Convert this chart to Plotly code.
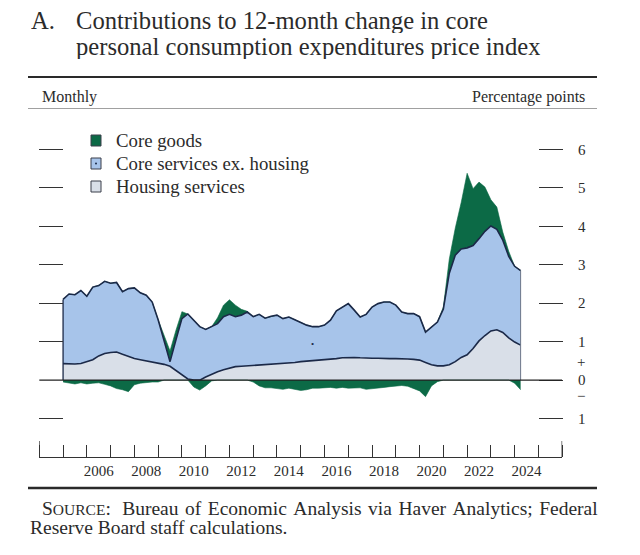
import plotly.graph_objects as go

# ---------------- data (quarterly readings, percentage points) ----------------
quarters = [2005 + 0.25 * i for i in range(78)]  # 2005:Q1 ... 2024:Q2

housing = [
    0.43, 0.42, 0.42, 0.43,
    0.47, 0.53, 0.63, 0.69,
    0.72, 0.73, 0.67, 0.61,
    0.56, 0.53, 0.50, 0.47,
    0.44, 0.41, 0.36, 0.25,
    0.14, 0.03, 0.00, 0.00,
    0.08, 0.16, 0.22, 0.27,
    0.31, 0.35, 0.36, 0.37,
    0.38, 0.39, 0.40, 0.41,
    0.42, 0.43, 0.44, 0.46,
    0.48, 0.49, 0.50, 0.52,
    0.53, 0.54, 0.56, 0.58,
    0.59, 0.59, 0.58, 0.57,
    0.57, 0.57, 0.56, 0.56,
    0.56, 0.56, 0.55, 0.54,
    0.52, 0.46, 0.40, 0.37,
    0.37, 0.40, 0.48, 0.59,
    0.66, 0.82, 1.02, 1.16,
    1.28, 1.31, 1.24, 1.10,
    0.99, 0.91,
]

services_ex_housing = [
    1.67, 1.82, 1.80, 1.90,
    1.71, 1.89, 1.83, 1.88,
    1.80, 1.81, 1.63, 1.77,
    1.84, 1.74, 1.71, 1.56,
    1.13, 0.59, 0.12, 0.80,
    1.46, 1.69, 1.56, 1.39,
    1.24, 1.23, 1.25, 1.38,
    1.40, 1.30, 1.33, 1.40,
    1.27, 1.32, 1.21, 1.25,
    1.27, 1.17, 1.20, 1.11,
    1.02, 0.94, 0.89, 0.87,
    0.90, 1.02, 1.24, 1.31,
    1.40, 1.23, 1.06, 1.14,
    1.33, 1.42, 1.47, 1.47,
    1.39, 1.21, 1.18, 1.19,
    1.13, 0.79, 0.99, 1.14,
    1.48, 2.38, 2.77, 2.82,
    2.78, 2.68, 2.66, 2.71,
    2.73, 2.61, 2.40, 2.12,
    1.97, 1.94,
]

core_goods = [
    -0.05, -0.08, -0.10, -0.07,
    -0.10, -0.08, -0.07, -0.11,
    -0.15, -0.22, -0.25, -0.30,
    -0.12, -0.08, -0.06, -0.05,
    -0.05, 0.15, 0.28, 0.25,
    0.18, 0.00, -0.18, -0.26,
    -0.15, -0.02, 0.15, 0.30,
    0.38, 0.30, 0.15, 0.02,
    -0.05, -0.15, -0.20, -0.20,
    -0.22, -0.24, -0.21, -0.24,
    -0.27, -0.25, -0.21, -0.21,
    -0.20, -0.19, -0.21, -0.19,
    -0.21, -0.21, -0.20, -0.24,
    -0.23, -0.21, -0.19, -0.17,
    -0.16, -0.14, -0.16, -0.22,
    -0.28, -0.43, -0.15, -0.04,
    0.05, 0.37, 0.70, 1.21,
    1.94, 1.48, 1.47, 1.15,
    0.68, 0.58, 0.21, 0.13,
    -0.08, -0.25,
]

year_labels = ["2006", "2008", "2010", "2012", "2014", "2016", "2018", "2020", "2022", "2024"]
year_label_pos = [int(s) + 0.5 for s in year_labels]
y_ticks = [-1, 0, 1, 2, 3, 4, 5, 6]
y_ticktext = ["1", "0", "1", "2", "3", "4", "5", "6"]
legend_names = ["Core goods", "Core services ex. housing", "Housing services"]

# ---------------- styling ----------------
FONT = "Liberation Serif, Times New Roman, serif"
TXT = "#2b2b2b"
C_GOODS = "#0c6a46"
C_SERV = "#a7c4ea"
C_HOUS = "#d9dfe8"
C_LINE = "#1b2948"

W, H = 640, 555
# plot area in window pixels
SL, SR, ST, SB = 38, 566, 111, 457


def fx(px):
    return (px - SL) / (SR - SL)


def fy(py):
    return (SB - py) / (SB - ST)


# stacked tops
h_top = housing
hs_top = [h + s for h, s in zip(housing, services_ex_housing)]
g_pos_top = [hs + max(g, 0) for hs, g in zip(hs_top, core_goods)]
g_neg = [min(g, 0) for g in core_goods]

fig = go.Figure()
fig.add_trace(go.Scatter(x=quarters, y=h_top, mode="lines", line=dict(width=0, color=C_HOUS),
                         fill="tozeroy", fillcolor=C_HOUS, hoverinfo="skip", showlegend=False))
fig.add_trace(go.Scatter(x=quarters, y=hs_top, mode="lines", line=dict(width=0, color=C_SERV),
                         fill="tonexty", fillcolor=C_SERV, hoverinfo="skip", showlegend=False))
fig.add_trace(go.Scatter(x=quarters, y=g_pos_top, mode="lines", line=dict(width=0.6, color=C_GOODS),
                         fill="tonexty", fillcolor=C_GOODS, hoverinfo="skip", showlegend=False))
fig.add_trace(go.Scatter(x=quarters, y=g_neg, mode="lines", line=dict(width=0.6, color=C_GOODS),
                         fill="tozeroy", fillcolor=C_GOODS, hoverinfo="skip", showlegend=False))
fig.add_trace(go.Scatter(x=quarters, y=h_top, mode="lines", line=dict(width=1.6, color=C_LINE),
                         hoverinfo="skip", showlegend=False))
fig.add_trace(go.Scatter(x=quarters, y=hs_top, mode="lines", line=dict(width=1.6, color=C_LINE),
                         hoverinfo="skip", showlegend=False))
# edges of the area
fig.add_trace(go.Scatter(x=[quarters[0], quarters[0]], y=[0, hs_top[0]], mode="lines",
                         line=dict(width=1.3, color=C_LINE), hoverinfo="skip", showlegend=False))
fig.add_trace(go.Scatter(x=[quarters[-1], quarters[-1]], y=[0, hs_top[-1]], mode="lines",
                         line=dict(width=1.0, color="#6b7588"), hoverinfo="skip", showlegend=False,
                         yaxis="y2"))

shapes = []
# zero line
shapes.append(dict(type="line", xref="paper", yref="y", x0=fx(39.3), x1=fx(562), y0=0, y1=0,
                   line=dict(color="#222222", width=1.4)))
# end ticks of the x axis (taller)
for xv in (2004, 2026):
    shapes.append(dict(type="line", xref="x", yref="paper", x0=xv, x1=xv, y0=0, y1=fy(441),
                       line=dict(color="#333333", width=1.3)))
# rules
shapes.append(dict(type="line", xref="paper", yref="paper", x0=fx(28), x1=fx(597), y0=fy(77), y1=fy(77),
                   line=dict(color="#2a2a2a", width=2.2)))
shapes.append(dict(type="line", xref="paper", yref="paper", x0=fx(28), x1=fx(597), y0=fy(108.5), y1=fy(108.5),
                   line=dict(color="#a0a0a0", width=1)))
shapes.append(dict(type="line", xref="paper", yref="paper", x0=fx(28), x1=fx(597), y0=fy(488), y1=fy(488),
                   line=dict(color="#2a2a2a", width=2.6)))
# legend swatches
legend_rows = [140.5, 163.5, 186.5]
for yc, col in zip(legend_rows, [C_GOODS, C_SERV, C_HOUS]):
    shapes.append(dict(type="rect", xref="paper", yref="paper", x0=fx(91), x1=fx(101),
                       y0=fy(yc + 5.5), y1=fy(yc - 5.5), fillcolor=col,
                       line=dict(color="#3a3f4a", width=1)))
shapes.append(dict(type="circle", xref="paper", yref="paper", x0=fx(95), x1=fx(97),
                   y0=fy(legend_rows[1] + 1), y1=fy(legend_rows[1] - 1), fillcolor=C_LINE,
                   line=dict(width=0)))

annotations = []


def ann(text, x, y, size, xanchor="left", yanchor="middle", color=TXT, height=None):
    a = dict(text=text, x=fx(x), y=fy(y), xref="paper", yref="paper",
             xanchor=xanchor, yanchor=yanchor, showarrow=False,
             font=dict(family=FONT, size=size, color=color))
    if height is not None:
        a["height"] = height
        a["valign"] = "middle"
    annotations.append(a)


ann("A.", 29, 20.5, 24.6, height=26)
ann("Contributions to 12-month change in core", 74, 20.5, 24.6, height=26)
ann("personal consumption expenditures price index", 74, 46.5, 24.6, height=26)
ann("Monthly", 40, 97, 16)
ann("Percentage points", 587, 97, 16, xanchor="right")
for name, yc in zip(legend_names, legend_rows):
    ann(name, 114, yc, 18.8)
ann("+", 581, 362, 15, xanchor="center")
ann("\u2212", 581, 396, 15, xanchor="center")
ann("\u2022", 312.5, 344, 9, xanchor="center", color=C_LINE)
gap = " \u200a"
ann("S<span style='font-size:15.5px'>OURCE</span>:\u00a0" + gap +
    gap.join(["Bureau", "of", "Economic", "Analysis", "via", "Haver", "Analytics;", "Federal"]),
    40, 508, 19.5)
ann("Reserve Board staff calculations.", 28, 527, 19.5)

fig.update_layout(
    width=W, height=H, autosize=False,
    margin=dict(l=SL, r=W - SR, t=ST, b=H - SB, pad=0),
    paper_bgcolor="white", plot_bgcolor="white",
    showlegend=False,
    font=dict(family=FONT, color=TXT),
    xaxis=dict(domain=[fx(39.3), fx(562.2)], range=[2004, 2026], showgrid=False, zeroline=False,
               showline=True, linecolor="#333333", linewidth=1.3,
               tickmode="array", tickvals=year_label_pos, ticktext=year_labels, ticks="",
               ticklabelstandoff=0,
               tickfont=dict(family=FONT, size=15, color=TXT),
               minor=dict(tickmode="linear", tick0=2004, dtick=1, ticks="inside", ticklen=12,
                          tickwidth=1.3, tickcolor="#333333", showgrid=False),
               fixedrange=True),
    yaxis=dict(range=[-2, 7], anchor="free", position=fx(63.3), side="left",
               showgrid=False, zeroline=False, showline=False,
               tickmode="array", tickvals=[-1, 1, 2, 3, 4, 5, 6], ticks="outside", ticklen=24,
               tickwidth=1.3, tickcolor="#333333", showticklabels=False, fixedrange=True),
    yaxis2=dict(range=[-2, 7], overlaying="y", anchor="free", position=fx(538), side="right",
                showgrid=False, zeroline=False, showline=False,
                tickmode="array", tickvals=y_ticks, ticktext=y_ticktext, ticks="outside", ticklen=24,
                tickwidth=1.3, tickcolor="#333333", ticklabelstandoff=12,
                tickfont=dict(family=FONT, size=15, color=TXT), fixedrange=True),
    shapes=shapes,
    annotations=annotations,
)

# remove the default 8px page margin so the figure fills the window exactly
fig.write_html("out.html", config={"displayModeBar": False},
               post_script="document.body.style.margin='0';")
